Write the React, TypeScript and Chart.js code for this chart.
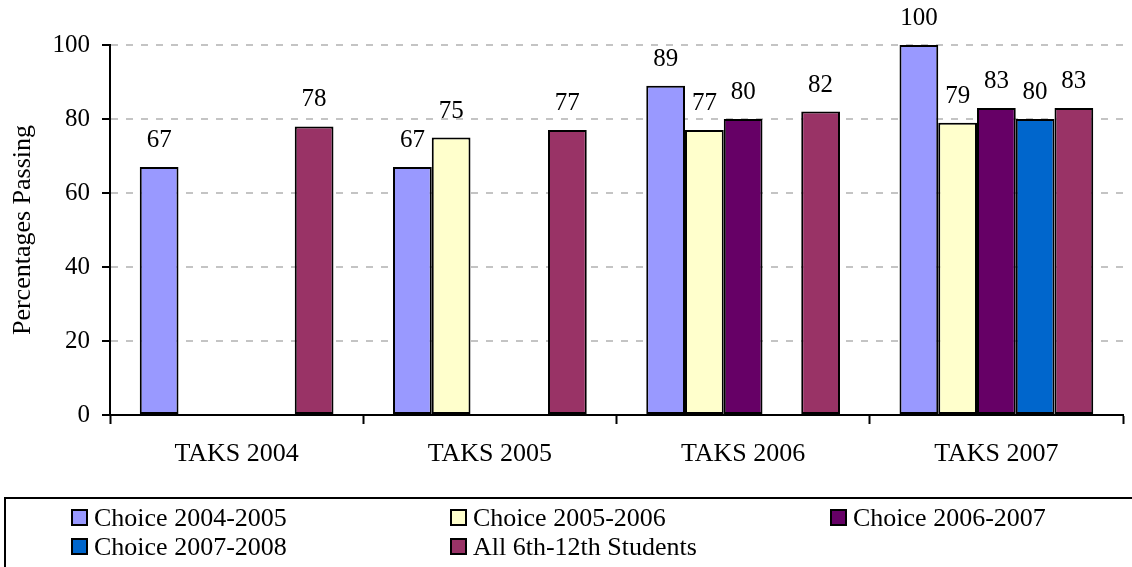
import React, { useEffect, useRef } from "react";
import { Chart, registerables } from "chart.js";

Chart.register(...registerables);

const categories = ["TAKS 2004", "TAKS 2005", "TAKS 2006", "TAKS 2007"];
const seriesNames = [
  "Choice 2004-2005",
  "Choice 2005-2006",
  "Choice 2006-2007",
  "Choice 2007-2008",
  "All 6th-12th Students",
];
const choice0405 = [67, 67, 89, 100];
const choice0506 = [null, 75, 77, 79];
const choice0607 = [null, null, 80, 83];
const choice0708 = [null, null, null, 80];
const allStudents = [78, 77, 82, 83];
const seriesColors = ["#9999FF", "#FFFFCC", "#660066", "#0066CC", "#993366"];
const yTicks = [0, 20, 40, 60, 80, 100];

const FONT = "'Liberation Serif', 'Times New Roman', serif";

export default function App() {
  const ref = useRef<HTMLCanvasElement | null>(null);

  useEffect(() => {
    if (!ref.current) return;
    const values = [choice0405, choice0506, choice0607, choice0708, allStudents];

    const labelPlugin = {
      id: "valueLabels",
      afterDatasetsDraw(chart: any) {
        const ctx = chart.ctx;
        ctx.save();
        ctx.font = `25px ${FONT}`;
        ctx.fillStyle = "#000";
        ctx.textAlign = "center";
        ctx.textBaseline = "alphabetic";
        chart.data.datasets.forEach((ds: any, i: number) => {
          const meta = chart.getDatasetMeta(i);
          meta.data.forEach((el: any, j: number) => {
            const v = ds.data[j];
            if (v === null || v === undefined) return;
            ctx.fillText(String(v), el.x, el.y - 20);
          });
        });
        ctx.restore();
      },
    };

    const legendPlugin = {
      id: "boxLegend",
      afterDraw(chart: any) {
        const ctx = chart.ctx;
        ctx.save();
        ctx.strokeStyle = "#000";
        ctx.lineWidth = 2;
        ctx.strokeRect(5, 498, 1200, 200);
        const pos = [
          [71, 518],
          [450, 518],
          [830, 518],
          [71, 547],
          [450, 547],
        ];
        ctx.font = `26px ${FONT}`;
        ctx.textBaseline = "middle";
        ctx.textAlign = "left";
        seriesNames.forEach((name, i) => {
          const [x, y] = pos[i];
          ctx.fillStyle = seriesColors[i];
          ctx.fillRect(x, y - 9, 17, 17);
          ctx.lineWidth = 2;
          ctx.strokeStyle = "#000";
          ctx.strokeRect(x + 1, y - 8, 15, 15);
          ctx.fillStyle = "#000";
          ctx.fillText(name, x + 23, y + 1);
        });
        ctx.restore();
      },
    };

    const chart = new Chart(ref.current, {
      type: "bar",
      data: {
        labels: categories,
        datasets: seriesNames.map((name, i) => ({
          label: name,
          data: values[i],
          backgroundColor: seriesColors[i],
          borderColor: "#000",
          borderWidth: 2,
          borderSkipped: false,
          categoryPercentage: 0.765,
          barPercentage: 1,
        })),
      },
      options: {
        animation: false,
        responsive: false,
        maintainAspectRatio: false,
        layout: { padding: { top: 45, right: 9, bottom: 0, left: 0 } },
        plugins: {
          legend: { display: false },
          tooltip: { enabled: false },
        },
        scales: {
          x: {
            afterFit(scale: any) {
              scale.height = 152;
            },
            grid: {
              display: true,
              offset: true,
              drawOnChartArea: false,
              drawTicks: true,
              tickLength: 9,
              tickColor: "#000",
              tickWidth: 2,
            },
            border: { display: true, color: "#000", width: 2 },
            ticks: {
              color: "#000",
              font: { family: FONT, size: 26 },
              padding: 15,
              maxRotation: 0,
            },
          },
          y: {
            min: 0,
            max: 100,
            afterFit(scale: any) {
              scale.width = 110;
            },
            afterBuildTicks(scale: any) {
              scale.ticks = yTicks.map((v) => ({ value: v }));
            },
            grid: {
              color: "#c4c4c4",
              lineWidth: 2,
              drawTicks: true,
              tickLength: 8,
              tickColor: "#000",
              tickWidth: 2,
              tickBorderDash: [],
            },
            border: { display: true, color: "#000", width: 2, dash: [7, 8] },
            ticks: {
              color: "#000",
              font: { family: FONT, size: 25 },
              padding: 12,
            },
            title: {
              display: true,
              text: "Percentages Passing",
              color: "#000",
              font: { family: FONT, size: 26 },
              padding: { top: 8, bottom: 0 },
            },
          },
        },
      },
      plugins: [labelPlugin, legendPlugin],
    } as any);

    return () => chart.destroy();
  }, []);

  return (
    <div style={{ position: "absolute", left: 0, top: 0, width: 1132, height: 567, background: "#fff" }}>
      <canvas ref={ref} width={1132} height={567} style={{ width: 1132, height: 567, display: "block" }} />
    </div>
  );
}
